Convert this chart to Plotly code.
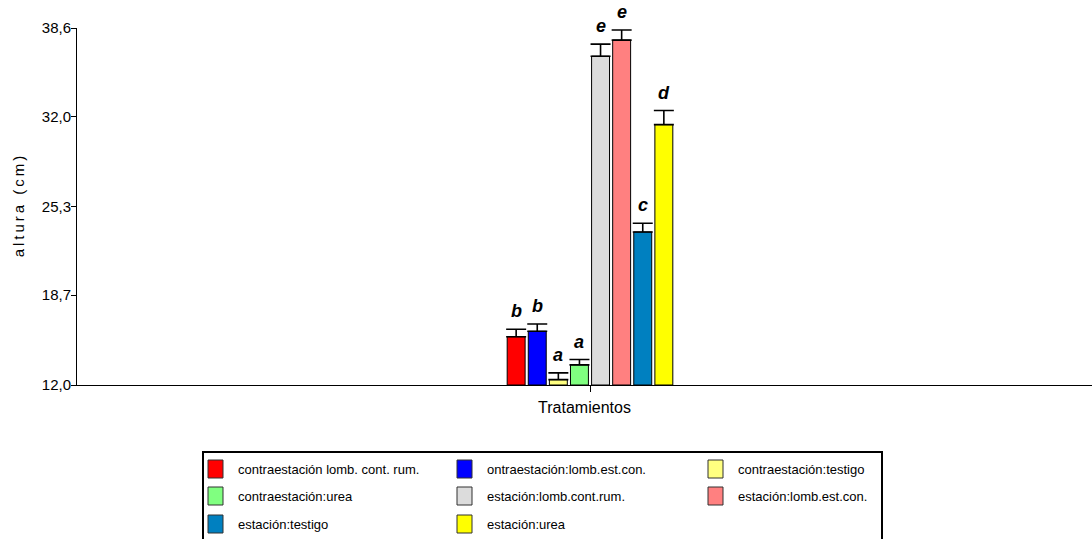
import plotly.graph_objects as go

# Treatment groups, mean height, upper error and significance letter
tratamientos = [
    "contraestación lomb. cont. rum.",
    "ontraestación:lomb.est.con.",
    "contraestación:testigo",
    "contraestación:urea",
    "estación:lomb.cont.rum.",
    "estación:lomb.est.con.",
    "estación:testigo",
    "estación:urea",
]
altura = [15.6, 16.0, 12.4, 13.5, 36.5, 37.7, 23.4, 31.4]
error_sup = [0.55, 0.55, 0.5, 0.4, 0.9, 0.75, 0.65, 1.05]
letras = ["b", "b", "a", "a", "e", "e", "c", "d"]
colores = ["#FF0000", "#0000FF", "#FFFF80", "#80FF80",
           "#DCDCDC", "#FF8080", "#0080C0", "#FFFF00"]
posiciones = [-3.5, -2.5, -1.5, -0.5, 0.5, 1.5, 2.5, 3.5]

y_ticks = [12.0, 18.7, 25.3, 32.0, 38.6]
y_tick_text = ["12,0", "18,7", "25,3", "32,0", "38,6"]

FONT = "Liberation Sans, Arial, sans-serif"

# Figure geometry (pixels)
W, H = 1092, 539
ML, MR, MT, MB = 77, 0, 28, 154
PW, PH = W - ML - MR, H - MT - MB


def px_x(px):
    return (px - ML) / PW


def px_y(py):
    return (H - MB - py) / PH


fig = go.Figure()
for nombre, x, h, e, c in zip(tratamientos, posiciones, altura, error_sup, colores):
    fig.add_trace(go.Bar(
        x=[x], y=[h - 12.0], base=12.0, name=nombre,
        width=0.85,
        marker=dict(color=c, line=dict(color="black", width=1)),
        error_y=dict(type="data", array=[e], arrayminus=[0], symmetric=False,
                     color="black", thickness=1.6, width=10),
        showlegend=False,
    ))

for x, h, e, l in zip(posiciones, altura, error_sup, letras):
    fig.add_annotation(
        x=x, y=h + e, text=f"<b><i>{l}</i></b>", showarrow=False,
        yanchor="bottom", yshift=6,
        font=dict(family=FONT, size=18, color="black"),
    )

# Legend box: three columns of swatch + label
shapes = [dict(type="rect", xref="paper", yref="paper",
               x0=px_x(203), x1=px_x(882), y0=px_y(452), y1=px_y(560),
               line=dict(color="black", width=2), fillcolor="rgba(0,0,0,0)")]
col_x = [208, 457, 708]
row_top = [460, 487, 515]
for i, (nombre, c) in enumerate(zip(tratamientos, colores)):
    cx = col_x[i % 3]
    ry = row_top[i // 3]
    shapes.append(dict(type="rect", xref="paper", yref="paper",
                       x0=px_x(cx), x1=px_x(cx + 15),
                       y0=px_y(ry), y1=px_y(ry + 18),
                       fillcolor=c, line=dict(color="#303030", width=1)))
    fig.add_annotation(
        xref="paper", yref="paper", x=px_x(cx + 28), y=px_y(ry + 9),
        xanchor="left", yanchor="middle", text=nombre, showarrow=False,
        font=dict(family=FONT, size=13, color="black"),
    )

spaced_title = "\u2009".join("altura (cm)")

fig.update_layout(
    width=W, height=H,
    margin=dict(l=ML, r=MR, t=MT, b=MB),
    paper_bgcolor="white", plot_bgcolor="white",
    font=dict(family=FONT, size=13, color="black"),
    barmode="overlay",
    showlegend=False,
    shapes=shapes,
    xaxis=dict(
        range=[(ML - 590) / 21.1, (W - 590) / 21.1],
        showgrid=False, zeroline=False,
        showline=True, linecolor="black", linewidth=1,
        tickvals=[0], ticktext=[""], ticks="outside", ticklen=6,
        tickcolor="black",
        title=dict(text="Tratamientos", standoff=8,
                   font=dict(family=FONT, size=16)),
    ),
    yaxis=dict(
        range=[12.0, 38.6],
        showgrid=False, zeroline=False,
        showline=True, linecolor="black", linewidth=1,
        tickvals=y_ticks, ticktext=y_tick_text,
        ticks="outside", ticklen=5, tickcolor="black",
        ticklabelstandoff=-3,
        tickfont=dict(family=FONT, size=15),
        title=dict(text=spaced_title, standoff=13,
                   font=dict(family=FONT, size=15)),
    ),
)

fig.write_html("out.html")
